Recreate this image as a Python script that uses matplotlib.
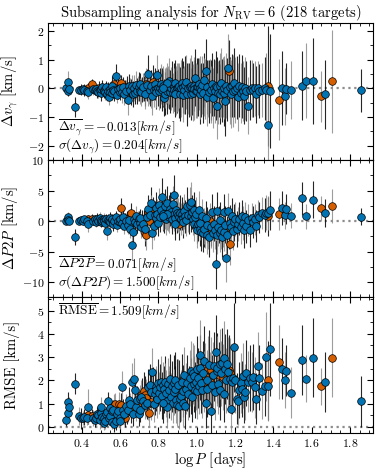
import numpy as np
import matplotlib
matplotlib.use("Agg")
import matplotlib.pyplot as plt
from matplotlib.ticker import MultipleLocator, AutoMinorLocator

# log P [days] per target
log_p = [
    0.317, 0.326, 0.330, 0.335, 0.365, 0.384, 0.395,
    0.405, 0.412, 0.425, 0.433, 0.435, 0.454, 0.460, 0.468, 0.473, 0.480, 0.487, 0.490, 0.497, 0.499,
    0.503, 0.508, 0.515, 0.516, 0.520, 0.528, 0.532, 0.536, 0.542, 0.546, 0.550, 0.556, 0.560, 0.563,
    0.567, 0.571, 0.574, 0.578, 0.584, 0.590, 0.594, 0.598,
    0.602, 0.607, 0.610, 0.616, 0.622, 0.628, 0.633, 0.638, 0.642, 0.648, 0.652, 0.656, 0.660, 0.665,
    0.671, 0.676, 0.682, 0.688, 0.694, 0.698,
    0.702, 0.706, 0.711, 0.716, 0.720, 0.725, 0.728, 0.732, 0.735, 0.740, 0.744, 0.748, 0.751, 0.755,
    0.760, 0.763, 0.767, 0.771, 0.775, 0.780, 0.785, 0.790, 0.795, 0.798,
    0.803, 0.807, 0.812, 0.819, 0.823, 0.828, 0.832, 0.836, 0.840, 0.845, 0.850, 0.853, 0.858, 0.862,
    0.867, 0.872, 0.876, 0.880, 0.884, 0.888, 0.892, 0.895, 0.898, 0.885, 0.843, 0.826,
    0.902, 0.906, 0.910, 0.914, 0.918, 0.922, 0.927, 0.931, 0.935, 0.940, 0.946, 0.950, 0.955, 0.960,
    0.964, 0.968, 0.972, 0.976, 0.980, 0.984, 0.988, 0.992, 0.996, 0.999,
    1.003, 1.007, 1.011, 1.015, 1.019, 1.023, 1.028, 1.032, 1.036, 1.040, 1.044, 1.048, 1.052, 1.056,
    1.060, 1.064, 1.068, 1.072, 1.076, 1.080, 1.084, 1.089, 1.094, 1.099,
    1.104, 1.108, 1.112, 1.116, 1.120, 1.124, 1.128, 1.133, 1.137, 1.141, 1.145, 1.150, 1.154, 1.158,
    1.162, 1.166, 1.172, 1.176, 1.180, 1.185, 1.190, 1.195,
    1.200, 1.212, 1.218, 1.223, 1.230, 1.235, 1.240, 1.247, 1.252, 1.258, 1.268, 1.278, 1.288, 1.296,
    1.305, 1.310, 1.318, 1.325, 1.340, 1.356, 1.362, 1.370, 1.373, 1.380,
    1.430, 1.447, 1.460, 1.466, 1.492, 1.550, 1.570, 1.607, 1.647, 1.670, 1.708, 1.858,
]

# 1 = second sample (orange), 0 = main sample (blue)
is_orange = [
    0, 0, 0, 0, 0, 0, 0,
    0, 0, 0, 1, 0, 1, 0, 0, 0, 0, 0, 1, 0, 0,
    0, 0, 0, 0, 0, 0, 0, 0, 0, 0, 0, 0, 0, 0,
    1, 0, 1, 0, 0, 0, 1, 0,
    0, 1, 0, 0, 0, 1, 0, 1, 0, 0, 0, 1, 0, 0,
    0, 0, 0, 0, 1, 0,
    0, 0, 0, 1, 0, 1, 0, 1, 1, 0, 1, 0, 1, 0,
    1, 0, 0, 1, 0, 0, 0, 0, 0, 0,
    0, 0, 0, 0, 0, 0, 1, 0, 0, 0, 0, 1, 0, 0,
    0, 0, 0, 0, 0, 0, 0, 1, 0, 0, 0, 0,
    0, 1, 0, 0, 0, 0, 0, 0, 0, 0, 0, 0, 0, 1,
    0, 0, 0, 0, 0, 0, 0, 0, 0, 0,
    0, 0, 0, 0, 0, 0, 0, 0, 1, 0, 1, 0, 0, 0,
    1, 0, 1, 0, 1, 0, 0, 0, 0, 0,
    0, 0, 0, 1, 0, 0, 0, 0, 1, 0, 0, 0, 0, 0,
    0, 1, 1, 0, 0, 0, 0, 0,
    0, 0, 0, 0, 0, 0, 0, 0, 0, 0, 0, 0, 0, 0,
    0, 0, 0, 0, 0, 0, 0, 1, 0, 0,
    1, 0, 0, 0, 0, 0, 0, 0, 1, 0, 1, 0,
]

# Delta v_gamma [km/s] and its error
dv = [
    0.00, 0.22, -0.08, -0.03, -0.66, -0.05, -0.04,
    -0.03, -0.06, -0.10, 0.00, -0.12, 0.14, -0.02, -0.05, -0.03, -0.08, -0.12, 0.02, -0.05, -0.15,
    -0.02, 0.05, -0.05, -0.10, -0.12, 0.05, -0.20, -0.08, -0.29, -0.02, -0.12, 0.08, -0.15, -0.05,
    0.14, -0.10, 0.02, 0.45, -0.22, -0.02, -0.05, -0.12,
    0.02, 0.18, -0.12, 0.05, -0.18, -0.05, -0.10, 0.05, -0.42, 0.10, -0.05, -0.12, 0.08, -0.20,
    0.02, -0.15, 0.12, -0.10, 0.00, 0.06,
    -0.08, 0.15, -0.12, -0.04, 0.05, 0.00, -0.18, -0.10, 0.15, 0.12, -0.10, 0.51, 0.05, -0.05,
    -0.10, 0.08, -0.28, 0.22, -0.05, 0.15, -0.02, -0.12, 0.48, 0.02,
    -0.10, 0.00, 0.15, -0.05, 0.08, -0.32, 0.02, -0.18, 0.10, -0.08, 0.05, -0.02, 0.25, -0.12,
    0.00, 0.15, -0.15, 0.05, -0.05, 0.20, -0.08, -0.10, 0.02, -0.20, 0.18, 0.00,
    0.05, -0.12, 0.10, -0.20, 0.00, 0.20, -0.22, 0.05, -0.05, 0.12, 0.22, -0.20, 0.00, -0.05,
    0.05, -0.20, 0.10, 0.02, -0.15, 0.10, -0.02, 0.38, -0.08, 0.05,
    -0.10, 0.05, 0.15, -0.20, 0.02, -0.05, 0.12, -0.15, 0.05, 0.30, -0.02, 0.62, -0.30, 0.05,
    0.00, -0.12, 0.08, -0.05, -0.20, 0.15, -0.35, 0.02, -0.10, 0.10,
    -0.62, 0.05, -0.15, 0.00, 0.10, -0.20, 0.20, -0.08, 0.05, -0.15, 0.02, -0.45, 0.10, -0.05,
    0.70, 0.60, -0.10, 0.05, -0.20, 0.10, -0.10, 0.20,
    -0.05, 0.02, -0.30, 0.10, -0.15, 0.05, -0.10, -0.25, 0.00, -0.08, -0.60, -0.05, 0.00, -0.05,
    0.00, -0.20, 0.02, -0.10, -0.05, 0.00, -0.05, 0.07, -1.27, -0.10,
    -0.39, 0.02, -0.28, -0.01, -0.06, 0.09, 0.27, 0.25, -0.28, -0.21, 0.25, -0.06,
]
dv_err = [
    0.12, 0.40, 0.20, 0.15, 0.35, 0.15, 0.20,
    0.15, 0.20, 0.20, 0.20, 0.25, 0.20, 0.20, 0.18, 0.20, 0.25, 0.20, 0.25, 0.20, 0.30,
    0.20, 0.25, 0.20, 0.25, 0.30, 0.20, 0.25, 0.30, 0.30, 0.25, 0.30, 0.35, 0.25, 0.30,
    0.30, 0.35, 0.30, 0.40, 0.30, 0.35, 0.30, 0.30,
    0.35, 0.30, 0.40, 0.35, 0.40, 0.35, 0.40, 0.40, 0.50, 0.40, 0.40, 0.45, 0.40, 0.45,
    0.45, 0.40, 0.50, 0.45, 0.45, 0.50,
    0.45, 0.40, 0.50, 0.45, 0.50, 0.45, 0.55, 0.50, 0.55, 0.55, 0.50, 0.65, 0.60, 0.55,
    0.60, 0.55, 0.65, 0.60, 0.60, 0.55, 0.65, 0.60, 0.70, 0.65,
    0.65, 0.70, 0.70, 0.75, 0.70, 0.65, 0.70, 0.75, 0.65, 0.80, 0.75, 0.70, 0.80, 0.75,
    0.75, 0.80, 0.70, 0.85, 0.75, 0.80, 0.85, 0.75, 0.85, 0.80, 0.70, 0.65,
    0.85, 0.90, 0.80, 0.95, 1.00, 0.85, 0.95, 0.90, 0.85, 1.00, 0.95, 1.10, 0.90, 0.95,
    1.00, 0.90, 1.05, 0.95, 1.00, 0.90, 1.10, 1.00, 0.95, 1.00,
    0.95, 1.00, 0.90, 1.05, 1.10, 0.95, 1.00, 1.05, 1.00, 0.95, 1.05, 1.10, 1.00, 0.95,
    1.00, 1.10, 0.95, 1.05, 1.00, 1.10, 1.05, 1.00, 1.10, 1.20,
    1.15, 1.05, 1.10, 1.00, 1.15, 1.05, 1.20, 1.10, 1.05, 1.15, 1.10, 1.20, 1.15, 1.10,
    1.20, 1.10, 1.15, 1.05, 1.20, 1.10, 1.25, 1.20,
    1.15, 1.10, 1.20, 1.10, 1.05, 1.10, 1.05, 1.00, 1.10, 1.05, 1.00, 1.05, 1.00, 0.95,
    0.95, 1.00, 0.95, 0.95, 0.95, 1.10, 1.30, 2.10, 1.40, 2.00,
    1.40, 1.30, 1.00, 0.90, 1.00, 1.20, 1.30, 1.50, 0.90, 1.20, 1.80, 0.75,
]

# Delta P2P [km/s] and its error
p2p = [
    0.1, 0.6, 0.2, 0.0, -2.6, 0.1, 0.2,
    0.0, 0.3, 0.1, 0.3, -0.5, 0.4, 0.1, 0.3, -0.1, 0.4, 0.0, 0.3, 0.5, -0.2,
    0.2, 0.0, 0.4, 0.1, -0.3, 0.3, -1.6, 0.2, 0.0, 0.5, -0.2, 0.2, 0.3, -0.4,
    0.3, 0.1, 0.4, 0.6, -0.6, 0.0, 0.2, -0.2,
    0.3, 2.2, -0.3, 0.6, -0.8, 0.3, 0.1, 0.4, -0.6, 0.2, -1.2, 1.4, -3.9, -1.7,
    0.4, -0.2, 0.8, -0.5, 0.1, 0.3,
    -0.3, 0.5, -1.0, 0.3, -0.5, 0.0, -1.2, -1.9, -2.3, 0.6, 1.5, 2.0, 0.1, 1.0,
    1.9, 3.0, -2.0, 1.6, -0.8, 1.0, 0.5, 2.2, 1.2, -0.3,
    2.6, 0.6, 1.8, 4.0, 1.2, 0.5, 1.3, 2.5, 0.3, 2.9, 1.0, 1.6, 0.6, 2.0,
    1.5, 0.4, 2.8, 4.3, 1.2, 0.5, 1.8, 0.7, 1.3, -0.5, 1.1, 0.8,
    1.0, -0.4, 0.6, 1.4, 0.3, 1.2, 0.5, -0.2, 1.6, 0.8, 0.2, 2.5, 1.0, 0.5,
    2.6, 0.9, 3.2, 1.5, 0.4, 1.8, -0.5, 0.7, 1.2, -0.8,
    -1.5, -0.5, 1.9, -1.2, -0.3, -1.8, 0.8, -2.0, -0.8, -1.3, -1.4, 0.5, -2.2, -0.6,
    -1.6, -2.6, 0.0, -1.0, -1.3, 1.5, -2.0, -0.4, -1.5, -7.0,
    -2.2, 1.7, -1.0, -0.5, -2.0, 0.2, -1.4, -2.6, -1.2, 1.5, -1.8, -0.6, -6.0, -2.2,
    1.6, -1.5, -3.8, -0.3, -1.0, 0.8, -1.6, -0.2,
    0.3, -1.3, -0.5, 0.4, -1.0, 0.8, -0.3, -1.5, 0.6, -0.8, 0.2, -1.5, 0.5, -0.2,
    0.3, -0.8, 1.0, 0.6, 1.3, 1.0, 1.4, 0.8, 1.3, 1.8,
    1.1, 2.2, 1.0, 2.0, 0.9, 3.7, 0.8, 3.5, 2.1, 1.3, 2.5, 0.7,
]
p2p_err = [
    0.4, 0.9, 0.6, 0.5, 1.3, 0.6, 0.5,
    0.6, 0.6, 0.8, 0.7, 1.2, 0.8, 0.6, 0.7, 0.8, 0.9, 0.7, 0.8, 1.0, 0.8,
    0.7, 0.8, 0.9, 0.7, 1.0, 0.8, 1.4, 1.0, 0.9, 1.0, 1.1, 0.9, 0.8, 1.2,
    0.9, 1.0, 0.8, 1.1, 1.2, 1.0, 1.0, 0.9,
    1.1, 1.5, 1.2, 1.2, 1.3, 1.1, 1.2, 1.3, 1.5, 1.4, 1.6, 1.6, 2.5, 1.8,
    1.5, 1.4, 1.6, 1.5, 1.5, 1.4,
    1.6, 1.5, 1.8, 1.6, 1.7, 1.8, 2.0, 2.2, 2.4, 1.8, 2.0, 2.2, 2.0, 2.0,
    2.3, 2.6, 2.5, 2.4, 2.2, 2.3, 2.2, 2.5, 2.4, 2.2,
    2.8, 2.4, 2.6, 3.0, 2.6, 2.5, 2.6, 2.8, 2.6, 2.9, 2.6, 2.7, 2.5, 2.8,
    2.6, 2.5, 3.0, 3.2, 2.8, 2.6, 2.8, 2.6, 2.7, 2.6, 2.5, 2.4,
    2.7, 2.6, 2.5, 2.8, 2.6, 2.7, 2.6, 2.6, 2.8, 2.7, 2.6, 3.0, 2.7, 2.6,
    3.0, 2.7, 3.2, 2.8, 2.7, 2.9, 2.7, 2.7, 2.8, 2.8,
    2.9, 2.8, 3.0, 2.9, 2.8, 3.0, 2.8, 3.0, 2.9, 2.9, 3.0, 2.8, 3.1, 2.9,
    3.0, 3.2, 2.9, 3.0, 3.0, 3.0, 3.1, 2.9, 3.0, 4.0,
    3.2, 3.0, 3.0, 3.0, 3.1, 2.9, 3.1, 3.2, 3.0, 3.0, 3.1, 3.0, 4.0, 3.1,
    3.0, 3.0, 3.4, 3.0, 3.0, 2.9, 3.1, 3.0,
    2.8, 2.9, 2.8, 2.7, 2.7, 2.7, 2.7, 2.8, 2.6, 2.7, 2.6, 2.7, 2.5, 2.6,
    2.5, 2.6, 2.5, 2.5, 2.6, 2.7, 2.8, 3.2, 2.8, 3.2,
    2.6, 2.8, 2.2, 2.4, 2.0, 2.7, 2.0, 3.0, 2.0, 2.3, 2.8, 1.4,
]

# RMSE [km/s] and its error
rmse = [
    0.30, 0.62, 1.06, 0.87, 1.85, 0.47, 0.37,
    0.40, 0.42, 0.38, 0.51, 0.87, 0.47, 0.40, 0.32, 0.40, 0.55, 0.51, 0.45, 0.30, 0.62,
    0.87, 0.45, 0.16, 0.37, 0.25, 0.55, 0.66, 1.12, 0.37, 0.80, 0.47, 0.68, 0.22, 0.72,
    0.93, 0.12, 1.00, 0.26, 0.55, 0.68, 0.99, 0.40,
    0.26, 0.95, 1.70, 0.75, 0.55, 0.38, 0.90, 0.63, 0.72, 1.15, 0.98, 0.70, 1.93, 0.55,
    2.05, 1.60, 0.85, 1.15, 0.99, 0.55,
    1.20, 0.75, 1.30, 1.40, 1.10, 1.55, 0.95, 1.38, 1.25, 1.05, 0.98, 1.70, 0.60, 1.82,
    1.08, 1.50, 2.38, 1.68, 1.00, 1.40, 1.72, 1.58, 1.20, 1.90,
    1.45, 1.70, 1.95, 1.35, 1.80, 1.62, 1.75, 1.95, 1.45, 1.10, 1.85, 1.40, 1.60, 2.05,
    1.30, 1.75, 1.05, 1.90, 1.50, 2.00, 1.15, 1.80, 0.95, 1.62, 0.85, 1.05,
    1.80, 1.78, 0.90, 1.20, 1.35, 1.95, 1.05, 1.55, 2.25, 0.92, 1.65, 1.90, 1.40, 1.52,
    2.10, 1.75, 2.40, 1.30, 2.30, 1.85, 2.20, 1.60, 1.95, 2.50,
    1.55, 2.10, 1.75, 2.55, 3.10, 1.90, 1.60, 2.30, 1.95, 2.85, 2.20, 1.05, 2.00, 1.65,
    2.50, 2.65, 1.92, 0.70, 2.45, 1.80, 2.25, 2.60, 1.50, 3.20,
    2.40, 2.55, 1.85, 2.25, 2.70, 1.60, 2.30, 2.75, 2.15, 1.40, 2.95, 2.50, 2.00, 2.70,
    2.35, 2.45, 2.30, 2.05, 0.78, 1.95, 2.10, 3.42,
    2.00, 1.22, 1.10, 1.58, 1.88, 1.62, 2.20, 1.28, 1.50, 2.32, 1.95, 2.10, 1.93, 2.15,
    1.70, 1.22, 2.60, 2.12, 1.55, 1.77, 3.02, 2.00, 1.77, 3.33,
    2.79, 2.51, 2.00, 2.42, 1.48, 2.88, 2.08, 2.98, 1.75, 1.94, 2.98, 1.11,
]
rmse_err = [
    0.25, 0.30, 0.45, 0.40, 0.45, 0.40, 0.45,
    0.30, 0.35, 0.30, 0.40, 0.75, 0.30, 0.35, 0.30, 0.35, 0.30, 0.35, 0.30, 0.40, 0.35,
    0.40, 0.30, 0.30, 0.35, 0.35, 0.30, 0.40, 0.40, 0.30, 0.35, 0.40, 0.35, 0.30, 0.45,
    0.50, 0.35, 0.45, 0.40, 0.45, 0.40, 0.50, 0.40,
    0.35, 0.50, 0.70, 0.45, 0.45, 0.40, 0.50, 0.50, 0.50, 0.55, 0.50, 0.55, 0.80, 0.50,
    0.90, 0.60, 0.60, 0.60, 0.60, 0.50,
    0.60, 0.55, 0.70, 0.70, 0.60, 0.80, 0.60, 0.80, 0.80, 0.70, 0.70, 0.80, 0.60, 0.90,
    0.80, 0.90, 1.00, 0.90, 0.80, 0.90, 0.90, 0.90, 0.80, 1.00,
    0.90, 1.00, 1.10, 1.00, 1.00, 1.00, 1.00, 1.10, 1.00, 0.90, 1.10, 1.00, 1.00, 1.10,
    1.00, 1.10, 0.90, 1.20, 1.00, 1.20, 1.00, 1.10, 0.90, 1.00, 0.90, 0.90,
    1.10, 1.10, 1.00, 1.00, 1.10, 1.20, 1.00, 1.10, 1.20, 1.00, 1.10, 1.20, 1.10, 1.10,
    1.20, 1.20, 1.30, 1.10, 1.30, 1.20, 1.30, 1.20, 1.20, 1.40,
    1.20, 1.30, 1.20, 1.40, 1.50, 1.30, 1.20, 1.40, 1.30, 1.50, 1.40, 1.10, 1.30, 1.20,
    1.40, 1.50, 1.30, 1.00, 1.40, 1.30, 1.40, 1.50, 1.20, 1.60,
    1.50, 1.50, 1.30, 1.40, 1.50, 1.30, 1.40, 1.50, 1.40, 1.20, 1.60, 1.50, 1.40, 1.50,
    1.50, 1.50, 1.50, 1.40, 1.00, 1.40, 1.40, 1.90,
    1.40, 1.10, 1.00, 1.20, 1.30, 1.20, 1.40, 1.10, 1.20, 1.40, 1.30, 1.40, 1.30, 1.40,
    1.30, 1.10, 1.50, 1.40, 1.20, 1.30, 1.90, 1.70, 1.50, 2.00,
    1.60, 1.30, 1.20, 1.10, 1.10, 1.50, 1.00, 1.70, 0.80, 1.30, 1.70, 1.10,
]

BLUE = '#0173B2'
ORANGE = '#D55E00'

plt.rcParams['font.family'] = 'serif'
plt.rcParams['font.serif'] = ['cmr10', 'DejaVu Serif']
plt.rcParams['mathtext.fontset'] = 'cm'
plt.rcParams['axes.formatter.use_mathtext'] = True
plt.rcParams['axes.unicode_minus'] = True


def style_axis(ax):
    ax.tick_params(which='both', direction='in', top=True, right=True, labelsize=8.5, pad=3)
    ax.tick_params(which='major', length=4)
    ax.tick_params(which='minor', length=2)
    ax.xaxis.set_major_locator(MultipleLocator(0.2))
    ax.xaxis.set_minor_locator(AutoMinorLocator(4))
    ax.yaxis.set_minor_locator(AutoMinorLocator(2))


def draw_panel(ax, y, yerr):
    x = np.array(log_p)
    y = np.array(y)
    yerr = np.array(yerr)
    orange = np.array(is_orange) == 1
    idx = np.arange(len(x))
    dark = idx % 2 == 0
    ax.axhline(0, color='0.55', linestyle=':', linewidth=1.6, zorder=1)
    ax.errorbar(x[dark], y[dark], yerr=yerr[dark], fmt='none', ecolor='black',
                elinewidth=0.8, alpha=0.85, zorder=2)
    ax.errorbar(x[~dark], y[~dark], yerr=yerr[~dark], fmt='none', ecolor='0.55',
                elinewidth=0.8, alpha=0.85, zorder=2)
    ax.plot(x[orange], y[orange], 'o', color=ORANGE, markeredgecolor='black',
            markeredgewidth=0.5, markersize=5.5, zorder=3, linestyle='none')
    ax.plot(x[~orange], y[~orange], 'o', color=BLUE, markeredgecolor='black',
            markeredgewidth=0.5, markersize=5.5, zorder=4, linestyle='none')
    style_axis(ax)


fig = plt.figure(figsize=(3.81, 4.73), dpi=100)
gs = fig.add_gridspec(3, 1, left=0.127, right=0.978, top=0.951, bottom=0.084, hspace=0)
ax1 = fig.add_subplot(gs[0])
ax2 = fig.add_subplot(gs[1], sharex=ax1)
ax3 = fig.add_subplot(gs[2], sharex=ax1)

draw_panel(ax1, dv, dv_err)
ax1.set_ylim(-2.5, 2.28)
ax1.yaxis.set_major_locator(MultipleLocator(1))
ax1.set_ylabel(r'$\Delta v_\gamma$ [km/s]', fontsize=10.5, labelpad=1)
ax1.text(0.03, 0.24, r'$\overline{\Delta v_\gamma} = -0.013 [km/s]$', transform=ax1.transAxes,
         fontsize=9.5, va='center')
ax1.text(0.03, 0.10, r'$\sigma(\Delta v_\gamma) = 0.204 [km/s]$', transform=ax1.transAxes,
         fontsize=9.5, va='center')
ax1.set_title(r'Subsampling analysis for $N_{\mathrm{RV}} = 6$ (218 targets)', fontsize=10.5, pad=3)

draw_panel(ax2, p2p, p2p_err)
ax2.set_ylim(-12.3, 10)
ax2.yaxis.set_major_locator(MultipleLocator(5))
ax2.set_ylabel(r'$\Delta P2P$ [km/s]', fontsize=10.5, labelpad=1)
ax2.text(0.03, 0.24, r'$\overline{\Delta P2P} = 0.071 [km/s]$', transform=ax2.transAxes,
         fontsize=9.5, va='center')
ax2.text(0.03, 0.10, r'$\sigma(\Delta P2P) = 1.500 [km/s]$', transform=ax2.transAxes,
         fontsize=9.5, va='center')

draw_panel(ax3, rmse, rmse_err)
ax3.set_ylim(-0.27, 5.6)
ax3.yaxis.set_major_locator(MultipleLocator(1))
ax3.set_ylabel('RMSE [km/s]', fontsize=10.5, labelpad=1)
ax3.text(0.03, 0.895, r'$\overline{\mathrm{RMSE}} = 1.509 [km/s]$', transform=ax3.transAxes,
         fontsize=9.5, va='center')
ax3.set_xlabel(r'$\log P$ [days]', fontsize=10.5, labelpad=1)
ax3.set_xlim(0.226, 1.918)

for ax in (ax1, ax2):
    ax.tick_params(labelbottom=False)

fig.align_ylabels([ax1, ax2, ax3])
fig.savefig('out.png', dpi=100)
